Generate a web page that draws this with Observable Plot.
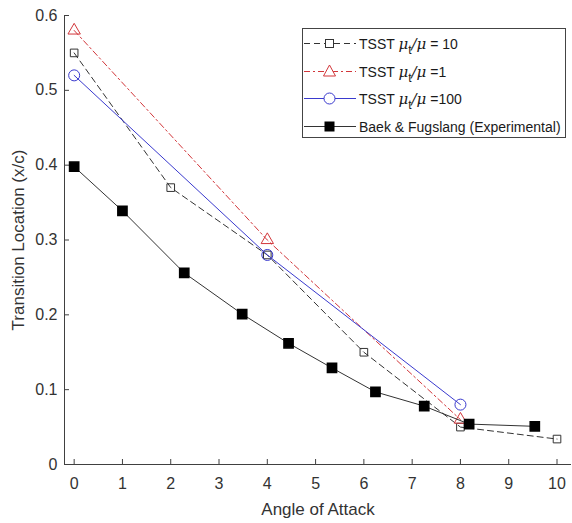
<!DOCTYPE html>
<html>
<head>
<meta charset="utf-8">
<script src="https://cdn.jsdelivr.net/npm/d3@7"></script>
<script src="https://cdn.jsdelivr.net/npm/@observablehq/plot@0.6"></script>
<style>
  html, body { margin: 0; padding: 0; background: #fff; }
  #wrap { position: relative; width: 572px; height: 523px; font-family: "Liberation Sans", Arial, Helvetica, sans-serif; }
  #legend { position: absolute; left: 302px; top: 28px; width: 264px; height: 110px; border: 1px solid #444; background: #fff; box-sizing: border-box; }
  .row { position: absolute; left: 0; height: 26px; display: flex; align-items: center; }
  .row svg { display: block; }
  .lab { font-size: 14px; color: #1a1a1a; margin-left: 2px; white-space: nowrap; }
  .mu { font-family: "DejaVu Serif", "Liberation Serif", serif; font-style: italic; font-size: 15px; }
  .sub { font-size: 12px; position: relative; top: 5px; }
</style>
</head>
<body>
<div id="wrap"></div>
<script>
// Data
const tsst10X = [0, 2, 4, 6, 8, 10];
const tsst10Y = [0.55, 0.37, 0.28, 0.15, 0.05, 0.034];
const tsst1X = [0, 4, 8];
const tsst1Y = [0.58, 0.30, 0.06];
const tsst100X = [0, 4, 8];
const tsst100Y = [0.52, 0.28, 0.08];
const expX = [0, 1, 2.28, 3.48, 4.44, 5.34, 6.24, 7.25, 8.18, 9.54];
const expY = [0.398, 0.339, 0.256, 0.201, 0.162, 0.129, 0.097, 0.078, 0.054, 0.051];
const xTicks = [0, 1, 2, 3, 4, 5, 6, 7, 8, 9, 10];
const yTicks = [0, 0.1, 0.2, 0.3, 0.4, 0.5, 0.6];

const toRows = (xs, ys) => xs.map((x, i) => ({x, y: ys[i]}));
const d10 = toRows(tsst10X, tsst10Y);
const d1 = toRows(tsst1X, tsst1Y);
const d100 = toRows(tsst100X, tsst100Y);
const dExp = toRows(expX, expY);

const cBlack = "#333333", cRed = "#d2363a", cBlue = "#3a3ace", cAxis = "#404040";

const chart = Plot.plot({
  width: 572, height: 523,
  marginLeft: 64, marginRight: 1, marginTop: 15, marginBottom: 59,
  style: {fontFamily: '"Liberation Sans", Arial, Helvetica, sans-serif', fontSize: "16px", color: "#333"},
  x: {domain: [-0.2, 10.3], ticks: xTicks, tickFormat: d => String(d)},
  y: {domain: [0, 0.6], ticks: yTicks, tickFormat: d => String(d)},
  marks: [
    Plot.axisX({ticks: xTicks, tickFormat: d => String(d), tickSize: -5, tickPadding: 18, stroke: cAxis, fill: "#333",
      label: null, fontSize: 16}),
    Plot.axisY({ticks: yTicks, tickFormat: d => String(d), tickSize: -5, tickPadding: 12, stroke: cAxis, fill: "#333",
      label: null, fontSize: 16}),
    Plot.axisX({ticks: [], label: "Angle of Attack", labelAnchor: "center", labelArrow: false, labelOffset: 50, fontSize: 17, fill: "#333"}),
    Plot.axisY({ticks: [], label: "Transition Location (x/c)", labelAnchor: "center", labelArrow: false, labelOffset: 53, fontSize: 17, fill: "#333"}),
    Plot.ruleY([0], {stroke: cAxis}),
    Plot.ruleX([-0.2], {stroke: cAxis}),
    Plot.line(d10, {x: "x", y: "y", stroke: cBlack, strokeWidth: 1, strokeDasharray: "6,4"}),
    Plot.dot(d10, {x: "x", y: "y", symbol: "square", r: 4.3, stroke: cBlack, fill: "none", strokeWidth: 1}),
    Plot.line(d1, {x: "x", y: "y", stroke: cRed, strokeWidth: 1, strokeDasharray: "6,3,2,3"}),
    Plot.dot(d1, {x: "x", y: "y", symbol: "triangle", r: 4.6, stroke: cRed, fill: "none", strokeWidth: 1}),
    Plot.line(d100, {x: "x", y: "y", stroke: cBlue, strokeWidth: 1}),
    Plot.dot(d100, {x: "x", y: "y", symbol: "circle", r: 5.5, stroke: cBlue, fill: "none", strokeWidth: 1}),
    Plot.line(dExp, {x: "x", y: "y", stroke: cBlack, strokeWidth: 1}),
    Plot.dot(dExp, {x: "x", y: "y", symbol: "square", r: 5.2, fill: "#000", stroke: "#000"})
  ]
});
const wrap = document.getElementById("wrap");
wrap.appendChild(chart);

// Legend
const entries = [
  {stroke: cBlack, dash: "6,4", sym: "sq", label: '<span>TSST </span><span class="mu">μ</span><span class="sub">t</span><span class="mu">/μ</span><span> = 10</span>'},
  {stroke: cRed, dash: "6,3,2,3", sym: "tri", label: '<span>TSST </span><span class="mu">μ</span><span class="sub">t</span><span class="mu">/μ</span><span> =1</span>'},
  {stroke: cBlue, dash: null, sym: "circ", label: '<span>TSST </span><span class="mu">μ</span><span class="sub">t</span><span class="mu">/μ</span><span> =100</span>'},
  {stroke: cBlack, dash: null, sym: "fsq", label: 'Baek &amp; Fugslang (Experimental)'}
];
const leg = document.createElement("div");
leg.id = "legend";
entries.forEach((e, i) => {
  const row = document.createElement("div");
  row.className = "row";
  row.style.top = (2 + i * 27.6) + "px";
  let marker = "";
  if (e.sym === "sq") marker = `<rect x="22.5" y="8.5" width="8" height="8" fill="#fff" stroke="${e.stroke}"/>`;
  if (e.sym === "fsq") marker = `<rect x="22" y="8" width="9" height="9" fill="#000" stroke="#000"/>`;
  if (e.sym === "tri") marker = `<path d="M26.5,6 L32.5,17 L20.5,17 Z" fill="#fff" stroke="${e.stroke}"/>`;
  if (e.sym === "circ") marker = `<circle cx="26.5" cy="12.5" r="5.5" fill="#fff" stroke="${e.stroke}"/>`;
  row.innerHTML = `<svg width="54" height="26"><line x1="1" x2="53" y1="12.5" y2="12.5" stroke="${e.stroke}" ${e.dash ? `stroke-dasharray="${e.dash}"` : ""}/>${marker}</svg><span class="lab">${e.label}</span>`;
  leg.appendChild(row);
});
wrap.appendChild(leg);
</script>
</body>
</html>
